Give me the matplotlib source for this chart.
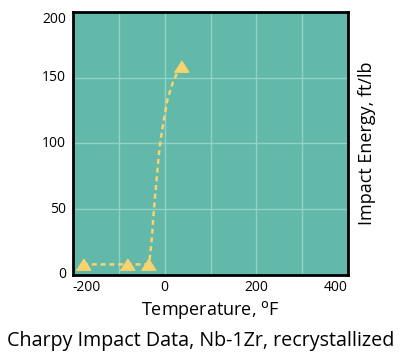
import matplotlib
matplotlib.use("Agg")
import matplotlib.pyplot as plt
import matplotlib.transforms as mtrans

# measured points (temperature F, impact energy ft/lb)
temps = [-178, -82, -36, 36]
energy = [8, 8, 8, 159]

# trend curve
curve_t = [-178, -82, -36, -33.5, -30.5, -27, -24.8, -21.7, -18.3, -15.2,
           -11.7, -6.5, -0.8, 5.7, 17.5, 26.3, 33]
curve_e = [8, 8, 8, 10, 19, 32, 44, 57, 70, 82,
           95, 108, 120, 133, 146, 153, 157]

xticks = [-200, 0, 200, 400]
yticks = [0, 50, 100, 150, 200]

teal = "#62b9a9"
yellow = "#f8d36e"

plt.rcParams['font.family'] = ['Open Sans', 'DejaVu Sans']

fig = plt.figure(figsize=(4.01, 3.52), dpi=100)
ax = fig.add_axes([0.182, 0.219, 0.686, 0.747])
ax.set_facecolor(teal)

ax.set_xlim(-200, 400)
ax.set_ylim(0, 200)
for gx in [-100, 0, 100, 200, 300]:
    ax.axvline(gx, color="#92d3c4", lw=1, zorder=1)
for gy in [50, 100, 150]:
    ax.axhline(gy, color="#92d3c4", lw=1, zorder=1)

tri = [(-1, -0.78), (1, -0.78), (0, 0.78)]
ax.plot(curve_t, curve_e, color=yellow, lw=1.8, ls=(0, (2, 1.5)), zorder=2)
ax.plot(temps, energy, ls="none", marker=tri, ms=10.5, color=yellow, zorder=3)


def nudge(lab, dx, dy):
    lab.set_transform(lab.get_transform() + mtrans.ScaledTranslation(dx / 72, dy / 72, fig.dpi_scale_trans))


ax.set_xticks(xticks)
ax.set_xticklabels([str(t) for t in xticks], fontsize=10)
# the original labels sit a little off their gridlines
shifts = [4, 0, -7, 0]
for lab, ha, dx in zip(ax.get_xticklabels(), ["left", "center", "center", "right"], shifts):
    lab.set_ha(ha)
    nudge(lab, dx, 0)
ax.set_yticks(yticks)
ax.set_yticklabels([str(t) for t in yticks], fontsize=10)
for lab, va in zip(ax.get_yticklabels(), ["center", "center", "center", "center", "top"]):
    lab.set_va(va)
nudge(ax.get_yticklabels()[0], 0, 3)
ax.tick_params(axis="x", length=0, pad=4)
ax.tick_params(axis="y", length=0, pad=5)

for s in ax.spines.values():
    s.set_linewidth(2)
    s.set_color("black")

ax.set_xlabel(r"Temperature, $^{\mathrm{o}}$F", fontsize=13, va="baseline")
ax.xaxis.set_label_coords(0.5, -0.152)
ax.yaxis.set_label_position("right")
ax.set_ylabel("Impact Energy, ft/lb", fontsize=13, labelpad=7)

fig.text(0.5, 0.017, "Charpy Impact Data, Nb-1Zr, recrystallized",
         ha="center", va="baseline", fontsize=14.2)

fig.savefig("out.png", dpi=100)
